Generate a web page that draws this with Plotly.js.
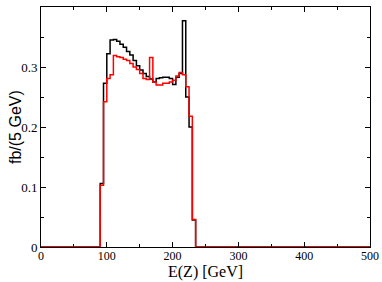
<!DOCTYPE html>
<html>
<head>
<meta charset="utf-8">
<script src="https://cdn.plot.ly/plotly-3.0.1.min.js"></script>
<style>html,body{margin:0;padding:0;background:#fff;}#chart{width:382px;height:282px;}</style>
</head>
<body>
<div id="chart"></div>
<script>
// Bin edges (GeV), 5 GeV bins
const binEdges = [90,95,100,105,110,115,120,125,130,135,140,145,150,155,160,165,170,175,180,185,190,195,200,205,210,215,220,225,230,235];
// fb/(5 GeV), one value per bin
const blackVals = [0.106,0.273,0.322,0.345,0.346,0.343,0.338,0.333,0.326,0.320,0.311,0.302,0.295,0.289,0.284,0.280,0.275,0.281,0.282,0.283,0.283,0.281,0.271,0.283,0.289,0.377,0.250,0.200,0.045];
const redVals   = [0.103,0.242,0.281,0.287,0.319,0.317,0.316,0.313,0.311,0.306,0.300,0.296,0.289,0.281,0.279,0.316,0.275,0.270,0.270,0.273,0.273,0.275,0.278,0.285,0.291,0.287,0.267,0.218,0.046];
const xRange = [0, 500];
const yRange = [0, 0.4];
const xTickVals = [0,100,200,300,400,500];
const yTickVals = [0,0.1,0.2,0.3,0.4];
const yTickText = ['0','0.1','0.2','0.3','0.4'];
const xTitle = 'E(Z) [GeV]';
const yTitle = 'fb/(5 GeV)';

function stepTrace(vals, color){
  const x = [xRange[0]].concat(binEdges.slice(0, vals.length), [binEdges[binEdges.length-1], xRange[1]]);
  const y = [0].concat(vals, [0, 0]);
  return {x:x, y:y, type:'scatter', mode:'lines', line:{shape:'hv', color:color, width:1.5}, hoverinfo:'skip', showlegend:false, cliponaxis:true};
}

const data = [stepTrace(blackVals, '#000000'), stepTrace(redVals, '#ff0000')];
const serif = '"Liberation Serif", "Times New Roman", serif';
const sans = '"Liberation Sans", Arial, sans-serif';
const layout = {
  width:382, height:282,
  margin:{l:41, r:12, t:7, b:35},
  paper_bgcolor:'#fff', plot_bgcolor:'#fff',
  showlegend:false,
  xaxis:{
    range:xRange, tickvals:xTickVals, ticktext:xTickVals.map(String),
    ticks:'inside', ticklen:5, tickwidth:1, tickcolor:'#000',
    minor:{dtick:50, ticks:'inside', ticklen:3, tickwidth:1, tickcolor:'#000', showgrid:false},
    showline:true, linecolor:'#000', linewidth:1, mirror:'ticks',
    showgrid:false, zeroline:false, automargin:false, ticklabelstandoff:-2,
    tickfont:{family:serif, size:12, color:'#000'}
  },
  yaxis:{
    range:yRange, tickvals:yTickVals, ticktext:yTickText,
    ticks:'inside', ticklen:5, tickwidth:1, tickcolor:'#000',
    minor:{dtick:0.05, ticks:'inside', ticklen:3, tickwidth:1, tickcolor:'#000', showgrid:false},
    showline:true, linecolor:'#000', linewidth:1, mirror:'ticks',
    showgrid:false, zeroline:false, automargin:false,
    tickfont:{family:serif, size:13, color:'#000'}
  },
  annotations:[
    {text:xTitle, xref:'paper', yref:'paper', x:0.5, y:0, xanchor:'center', yanchor:'middle', yshift:-25, showarrow:false,
     font:{family:serif, size:16, color:'#000'}},
    {text:yTitle, xref:'paper', yref:'paper', x:0, y:0.5, xanchor:'center', yanchor:'middle', xshift:-26, textangle:-90, showarrow:false,
     font:{family:sans, size:16, color:'#000'}}
  ]
};
Plotly.newPlot('chart', data, layout, {displayModeBar:false, staticPlot:true});
</script>
</body>
</html>
